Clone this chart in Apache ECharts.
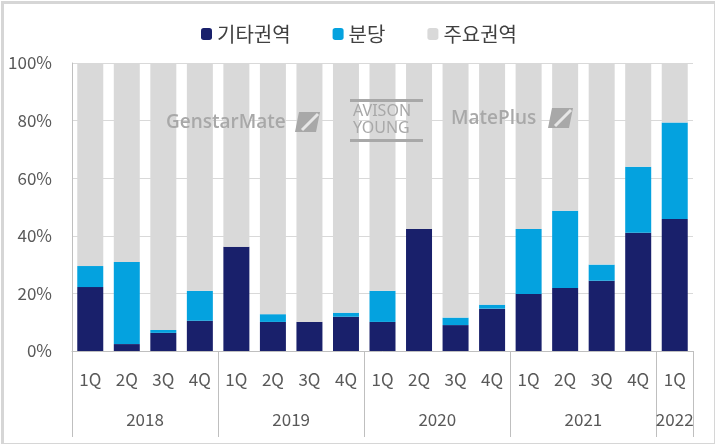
<!DOCTYPE html>
<html><head><meta charset="utf-8">
<script src="https://cdn.jsdelivr.net/npm/echarts@6/dist/echarts.min.js"></script>
<style>html,body{margin:0;padding:0;background:#fff}#c{width:715px;height:444px}</style>
</head><body><div id="c"></div>
<script>
var quarters = ['1Q','2Q','3Q','4Q','1Q','2Q','3Q','4Q','1Q','2Q','3Q','4Q','1Q','2Q','3Q','4Q','1Q'];
var years = ['2018','2019','2020','2021','2022'];
var yearSpans = [4,4,4,4,1];
var seriesNames = ['기타권역','분당','주요권역'];
var etc = [22.2, 2.4, 6.3, 10.5, 36.2, 10.1, 10.1, 11.9, 10.1, 42.4, 9.0, 14.7, 19.8, 21.9, 24.4, 41.1, 45.8];
var bundang = [7.3, 28.5, 1.0, 10.4, 0, 2.7, 0, 1.4, 10.8, 0, 2.6, 1.4, 22.6, 26.8, 5.6, 22.9, 33.5];
var main = [70.5, 69.1, 92.7, 79.1, 63.8, 87.2, 89.9, 86.7, 79.1, 57.6, 88.4, 83.9, 57.6, 51.3, 70.0, 36.0, 20.7];

// year axis helper: half-quarter slots (0..2*N)
var N = quarters.length;
var yearSlots = [];
for (var i = 0; i <= 2*N; i++) yearSlots.push('');
var boundaries = {0:true};
var pos = 0;
years.forEach(function(y, k){
  yearSlots[pos*2 + yearSpans[k]] = y;
  pos += yearSpans[k];
  boundaries[pos*2] = true;
});

var font = '"Noto Sans CJK KR", "Noto Sans", sans-serif';
var txt = '#595959';
var wm = '#a8a8a8';
var wmFont = '600 19px "Open Sans", "Noto Sans", sans-serif';
var chart = echarts.init(document.getElementById('c'), null, {renderer:'canvas'});
chart.setOption({
  animation: false,
  textStyle: {fontFamily: font},
  legend: {
    top: 24, left: 201, padding: 0,
    itemWidth: 11, itemHeight: 12, itemGap: 42,
    textStyle: {fontSize: 20, color: '#404040', fontFamily: font},
    data: seriesNames
  },
  grid: {left: 72, right: 22, top: 63, bottom: 93},
  xAxis: [{
    type: 'category', data: quarters,
    axisLine: {lineStyle: {color: '#bfbfbf', width: 1}},
    axisTick: {show: false},
    axisLabel: {color: txt, fontSize: 17, margin: 20, fontFamily: font, interval: 0}
  },{
    type: 'category', data: yearSlots, boundaryGap: false, position: 'bottom',
    axisLine: {show: false},
    axisTick: {show: true, length: 86, lineStyle: {color: '#bfbfbf'},
      interval: function(idx){ return !!boundaries[idx]; }},
    axisLabel: {color: txt, fontSize: 17, margin: 60, fontFamily: font,
      interval: function(idx, v){ return v !== ''; }}
  }],
  yAxis: {
    type: 'value', min: 0, max: 100, interval: 20,
    axisLabel: {formatter: '{value}%', color: txt, fontSize: 17, margin: 20, fontFamily: font},
    axisLine: {show: true, lineStyle: {color: '#bfbfbf'}},
    splitLine: {lineStyle: {color: '#d9d9d9'}}
  },
  series: [
    {name: seriesNames[0], type: 'bar', stack: 's', data: etc, barWidth: 26, itemStyle: {color: '#19206b'}},
    {name: seriesNames[1], type: 'bar', stack: 's', data: bundang, barWidth: 26, itemStyle: {color: '#04a2df'}},
    {name: seriesNames[2], type: 'bar', stack: 's', data: main, barWidth: 26, itemStyle: {color: '#d9d9d9'}}
  ],
  graphic: [
    {type: 'rect', left: 0, top: 0, shape: {x: 1, y: 1, width: 713, height: 442},
      style: {fill: 'none', stroke: '#d6d6d6', lineWidth: 3}, silent: true},
    {type: 'text', x: 166, y: 113, style: {text: 'GenstarMate', fill: wm, font: wmFont}, z: 10},
    {type: 'polygon', shape: {points: [[299,112],[320,112],[316,132],[295,132]]}, style: {fill: wm}, z: 10},
    {type: 'line', shape: {x1: 302, y1: 130, x2: 318, y2: 114}, style: {stroke: '#e6e6e6', lineWidth: 3}, z: 11},
    {type: 'rect', shape: {x: 350, y: 99, width: 73, height: 3}, style: {fill: wm}, z: 10},
    {type: 'rect', shape: {x: 350, y: 139, width: 73, height: 3}, style: {fill: wm}, z: 10},
    {type: 'text', x: 353, y: 103, style: {text: 'AVISON', fill: wm, font: '16px "Noto Sans", sans-serif'}, z: 10},
    {type: 'text', x: 353, y: 120, style: {text: 'YOUNG', fill: wm, font: '16px "Noto Sans", sans-serif'}, z: 10},
    {type: 'text', x: 451, y: 109, style: {text: 'MatePlus', fill: wm, font: wmFont}, z: 10},
    {type: 'polygon', shape: {points: [[552,108],[573,108],[569,128],[548,128]]}, style: {fill: wm}, z: 10},
    {type: 'line', shape: {x1: 555, y1: 126, x2: 571, y2: 110}, style: {stroke: '#e6e6e6', lineWidth: 3}, z: 11}
  ]
});
</script></body></html>
